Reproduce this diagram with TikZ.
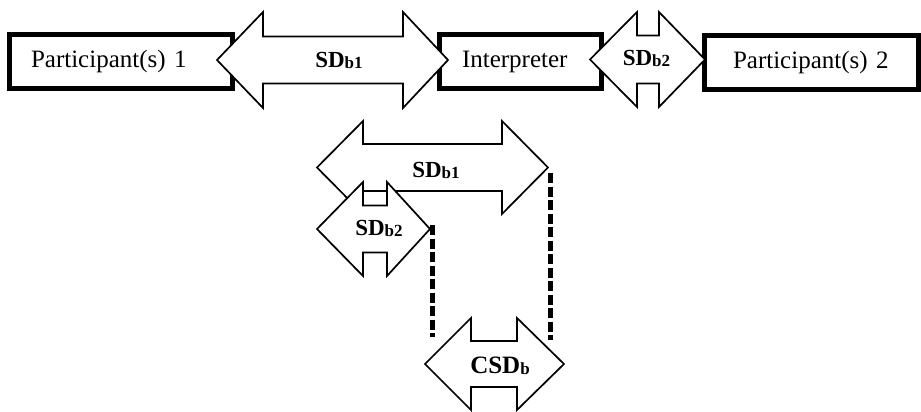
\documentclass[tikz,border=0pt]{standalone}
\usepackage{fontspec}
\setmainfont{Liberation Serif}
\newcommand{\bkarrow}[7]{%
  \draw[barrow] (#1,#5) -- (#2,#5-#7) -- (#2,#5-#6) -- (#3,#5-#6) -- (#3,#5-#7) -- (#4,#5)
    -- (#3,#5+#7) -- (#3,#5+#6) -- (#2,#5+#6) -- (#2,#5+#7) -- cycle;}
\newcommand{\sdlab}[2]{{\fontsize{#1}{#1}\selectfont\bfseries #2}}
\newcommand{\sdsub}[1]{\raisebox{-1pt}{\fontsize{17}{17}\selectfont\bfseries #1}}
\tikzset{
  pbox/.style={draw=black, line width=5pt, fill=white, align=left,
    font=\fontsize{25}{28}\selectfont, inner ysep=0pt},
  barrow/.style={draw=black, line width=1.7pt, fill=white, line join=miter},
  lab/.style={anchor=base, inner sep=0pt},
  dashline/.style={line width=5pt, dash pattern=on 10pt off 3.5pt}
}
\begin{document}
\begin{tikzpicture}[x=1pt,y=-1pt]
\useasboundingbox (0,0) rectangle (921,412);
% boxes
\node[pbox, minimum width=223pt, minimum height=54pt, text width=180pt, inner xsep=21.5pt] (p1) at (121,61.5) {Participant(s) 1};
\node[pbox, minimum width=162pt, minimum height=54pt, text width=117pt, inner xsep=22.5pt] (interp) at (520.5,61.5) {Interpreter};
\node[pbox, minimum width=214pt, minimum height=54pt, text width=157pt, inner xsep=28.5pt] (p2) at (811.5,62.5) {Participant(s) 2};
% top arrows
\bkarrow{217}{263}{403}{448}{60}{23.5}{48}
\node[lab] (sdb1top) at (339,68) {\sdlab{23}{SD}\sdsub{b1}};
\bkarrow{590}{637}{659}{705}{59.5}{24}{47.5}
\node[lab] (sdb2top) at (646.5,65.5) {\sdlab{23}{SD}\sdsub{b2}};
% bottom arrows
\bkarrow{317}{363}{502}{548}{167.5}{23.5}{46.5}
\node[lab] (sdb1bot) at (436,177.5) {\sdlab{23}{SD}\sdsub{b1}};
\bkarrow{317}{363}{387}{430}{229}{23.5}{47}
\node[lab] (sdb2bot) at (379,235.5) {\sdlab{23}{SD}\sdsub{b2}};
\bkarrow{425}{471}{517}{564}{364}{23}{46}
\node[lab] (csdb) at (500,373) {\sdlab{25}{CSD}\sdsub{b}};
% dashed lines
\coordinate (d1a) at (432,225);
\coordinate (d1b) at (432,337);
\coordinate (d2a) at (550,173);
\coordinate (d2b) at (550,340);
\draw[dashline] (d1a) -- (d1b);
\draw[dashline] (d2a) -- (d2b);
\end{tikzpicture}
\end{document}
